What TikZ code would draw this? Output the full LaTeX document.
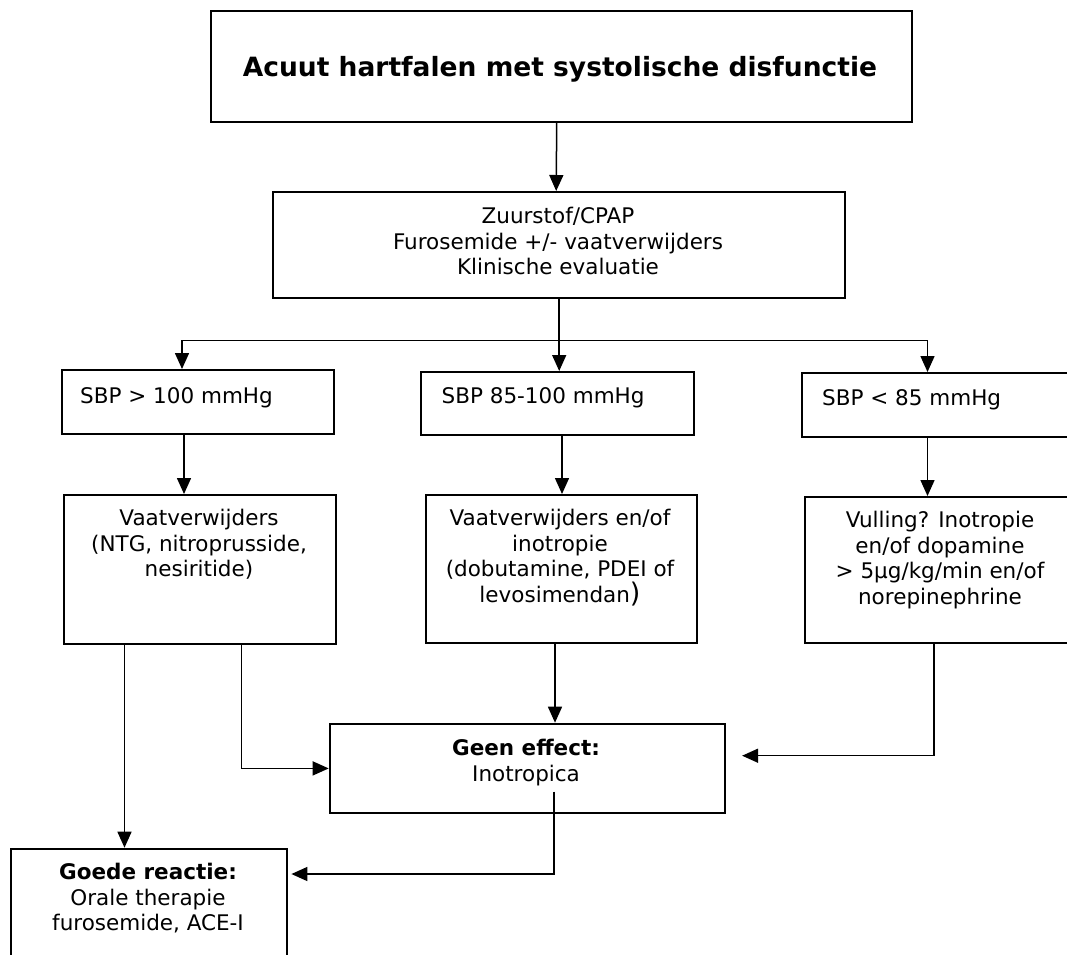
\documentclass[tikz,border=0pt]{standalone}
\usepackage{fontspec}
\setmainfont{DejaVu Sans}
\usetikzlibrary{arrows.meta}
\begin{document}
\begin{tikzpicture}[x=1pt,y=-1pt,
  box/.style={draw, line width=2.4pt, inner sep=0pt, anchor=north west},
  txt/.style={inner sep=0pt, align=center, font=\fontsize{21.5}{25.8}\selectfont},
  ltxt/.style={inner sep=0pt, anchor=base west, font=\fontsize{21.5}{25.8}\selectfont},
  arr/.style={line width=1.5pt, -{Triangle[length=16pt,width=14pt]}}]
\useasboundingbox (0,0) rectangle (1067,954);
% boxes
\node[box, minimum width=701, minimum height=111] (title) at (210,9.5) {};
\node[box, minimum width=572, minimum height=106] (b2) at (272,191) {};
\node[box, minimum width=272.5, minimum height=64] (s1) at (60.5,369) {};
\node[box, minimum width=273, minimum height=63] (s2) at (420,371) {};
\node[box, minimum width=300, minimum height=64] (s3) at (801,372) {};
\node[box, minimum width=272.5, minimum height=148.5] (v1) at (62.5,494) {};
\node[box, minimum width=271.5, minimum height=148] (v2) at (424.5,494) {};
\node[box, minimum width=300, minimum height=146] (v3) at (804,496) {};
\node[box, minimum width=395.3, minimum height=89] (geen) at (328.7,722.7) {};
\node[box, minimum width=275.7, minimum height=150] (goede) at (10,847.7) {};
% texts
\node[inner sep=0pt, anchor=base, font=\fontsize{26.5}{30}\selectfont\bfseries] (ttitle) at (560,76) {Acuut hartfalen met systolische disfunctie};
\node[txt, anchor=north] (tb2) at (558,206.7) {Zuurstof/CPAP\\Furosemide +/- vaatverwijders\\Klinische evaluatie};
\node[ltxt] (ts1) at (80,403) {SBP > 100 mmHg};
\node[ltxt] (ts2) at (441.5,403) {SBP 85-100 mmHg};
\node[ltxt] (ts3) at (822,405) {SBP < 85 mmHg};
\node[txt, anchor=north] (tv1) at (199,508.7) {Vaatverwijders\\(NTG, nitroprusside,\\nesiritide)};
\node[txt, anchor=north] (tv2) at (560,508.7) {Vaatverwijders en/of\\inotropie\\(dobutamine, PDEI of\\levosimendan{\fontsize{27}{27}\selectfont)}};
\node[txt, anchor=north] (tv3) at (940,510.7) {Vulling? Inotropie\\en/of dopamine\\> 5µg/kg/min en/of\\norepinephrine};
\node[txt, anchor=north] (tgeen) at (526,738.7) {\textbf{Geen effect:}\\Inotropica};
\node[txt, anchor=north] (tgoede) at (148,862.7) {\textbf{Goede reactie:}\\Orale therapie\\furosemide, ACE-I};
% helper coordinates
\coordinate (fork) at (558,340.7);
\coordinate (c1) at (182,340.7);
\coordinate (c3) at (927.5,340.7);
\coordinate (x1) at (184,0);
\coordinate (x2) at (562,0);
\coordinate (x3) at (927.5,0);
\coordinate (x4) at (124.5,0);
\coordinate (x5) at (241.5,0);
\coordinate (x6) at (555,0);
\coordinate (x7) at (934,0);
\coordinate (y2) at (0,755.7);
\coordinate (y3) at (0,874);
\coordinate (gs) at (554,791.7);
% connectors
\draw[arr] ([xshift=-5]title.south) -- ([xshift=-3]b2.north);
\draw[arr] (b2.south) -- (b2.south |- s2.north);
\draw[arr] (fork) -- (c1) -- (c1 |- s1.north);
\draw[arr] (fork) -- (c3) -- (c3 |- s3.north);
\draw[arr] (s1.south -| x1) -- (v1.north -| x1);
\draw[arr] (s2.south -| x2) -- (v2.north -| x2);
\draw[arr] (s3.south -| x3) -- (v3.north -| x3);
\draw[arr] (v1.south -| x4) -- (goede.north -| x4);
\draw[arr] (v1.south -| x5) |- (geen.west);
\draw[arr] (v2.south -| x6) -- (geen.north -| x6);
\draw[arr, shorten >=15.7pt] (v3.south -| x7) |- (geen.east |- y2);
\draw[arr, shorten >=3.3pt] (gs) |- (goede.east |- y3);
\end{tikzpicture}
\end{document}
